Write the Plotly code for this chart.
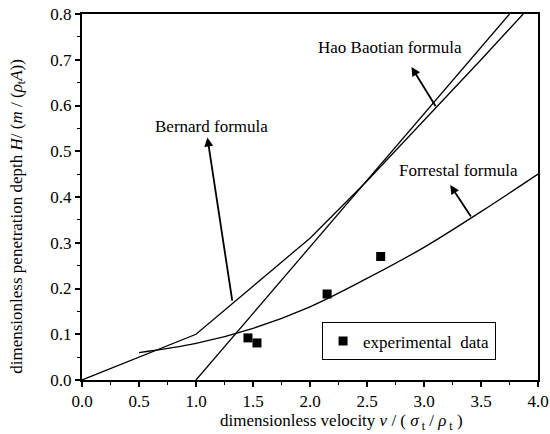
import plotly.graph_objects as go

# Data
bern_x = [0.0, 1.0, 1.5, 2.0, 2.5, 3.0, 3.5, 3.87]
bern_y = [0.0, 0.10, 0.205, 0.31, 0.435, 0.567, 0.70, 0.80]

hao_x = [1.0, 3.75]
hao_y = [0.0, 0.80]

forr_x = [0.5, 1.0, 1.5, 2.0, 2.5, 3.0, 3.5, 4.0]
forr_y = [0.060, 0.080, 0.113, 0.160, 0.222, 0.290, 0.368, 0.450]

exp_x = [1.456, 1.535, 2.15, 2.62]
exp_y = [0.092, 0.081, 0.188, 0.270]

x_ticks = [0.0, 0.5, 1.0, 1.5, 2.0, 2.5, 3.0, 3.5, 4.0]
y_ticks = [0.0, 0.1, 0.2, 0.3, 0.4, 0.5, 0.6, 0.7, 0.8]

FONT = "Liberation Serif, Times New Roman, serif"
FS = 17

fig = go.Figure()
line_style = dict(color="black", width=1.3)
fig.add_trace(go.Scatter(x=bern_x, y=bern_y, mode="lines", line=line_style, showlegend=False))
fig.add_trace(go.Scatter(x=hao_x, y=hao_y, mode="lines", line=line_style, showlegend=False))
fig.add_trace(go.Scatter(x=forr_x, y=forr_y, mode="lines",
                         line=dict(color="black", width=1.3, shape="spline"), showlegend=False))
fig.add_trace(go.Scatter(x=exp_x, y=exp_y, mode="markers", name="experimental  data",
                         marker=dict(symbol="square", size=9, color="black")))

anns = [
    dict(text="Hao Baotian formula", tx=2.70, ty=0.726, ax=3.11, ay=0.595, hx=2.89, hy=0.684),
    dict(text="Bernard formula", tx=1.14, ty=0.555, ax=1.32, ay=0.17, hx=1.10, hy=0.53),
    dict(text="Forrestal formula", tx=3.30, ty=0.459, ax=3.42, ay=0.354, hx=3.23, hy=0.426),
]
for a in anns:
    fig.add_annotation(x=a["tx"], y=a["ty"], text=a["text"], showarrow=False,
                       font=dict(family=FONT, size=FS, color="black"))
    fig.add_annotation(x=a["hx"], y=a["hy"], ax=a["ax"], ay=a["ay"], xref="x", yref="y",
                       axref="x", ayref="y", text="", showarrow=True, arrowhead=2,
                       arrowsize=1.0, arrowwidth=1.8, arrowcolor="black")

# axis titles (placed as annotations to match the reference offsets)
fig.add_annotation(xref="paper", yref="paper", x=0.568, y=-0.115, yanchor="middle",
                   showarrow=False,
                   text="dimensionless velocity <i>v</i> / ( <i>σ</i><sub> t</sub> / <i>ρ</i><sub> t</sub> )",
                   font=dict(family=FONT, size=FS, color="black"))
fig.add_annotation(xref="paper", yref="paper", x=-0.141, y=0.448, xanchor="center",
                   yanchor="middle", textangle=-90, showarrow=False,
                   text="dimensionless penetration depth <i>H</i>/ (<i>m</i> / (<i>ρ</i><sub>t</sub><i>A</i>))",
                   font=dict(family=FONT, size=FS, color="black"))

fig.update_xaxes(range=[0, 4], tickvals=x_ticks, ticktext=[f"{v:.1f}" for v in x_ticks],
                 ticks="outside", ticklen=5, tickwidth=1.5, tickcolor="black",
                 minor=dict(dtick=0.25, ticks="outside", ticklen=3, tickwidth=1.2, tickcolor="black"),
                 showline=True, linewidth=2, linecolor="black", mirror=True,
                 showgrid=False, zeroline=False, automargin=False,
                 tickfont=dict(family=FONT, size=FS, color="black"))
fig.update_yaxes(range=[0, 0.8], tickvals=y_ticks, ticktext=[f"{v:.1f}" for v in y_ticks],
                 ticks="outside", ticklen=5, tickwidth=1.5, tickcolor="black",
                 minor=dict(dtick=0.05, ticks="outside", ticklen=3, tickwidth=1.2, tickcolor="black"),
                 showline=True, linewidth=2, linecolor="black", mirror=True,
                 showgrid=False, zeroline=False, automargin=False,
                 tickfont=dict(family=FONT, size=FS, color="black"))

fig.update_layout(
    template="none",
    width=550, height=434,
    margin=dict(l=82, r=12, t=14, b=54),
    paper_bgcolor="white", plot_bgcolor="white",
    showlegend=True,
    legend=dict(x=0.526, y=0.158, xanchor="left", yanchor="top",
                bordercolor="black", borderwidth=1.2, bgcolor="white",
                font=dict(family=FONT, size=FS, color="black"),
                entrywidth=155, itemwidth=30, tracegroupgap=0),
)

fig.write_html("out.html")
